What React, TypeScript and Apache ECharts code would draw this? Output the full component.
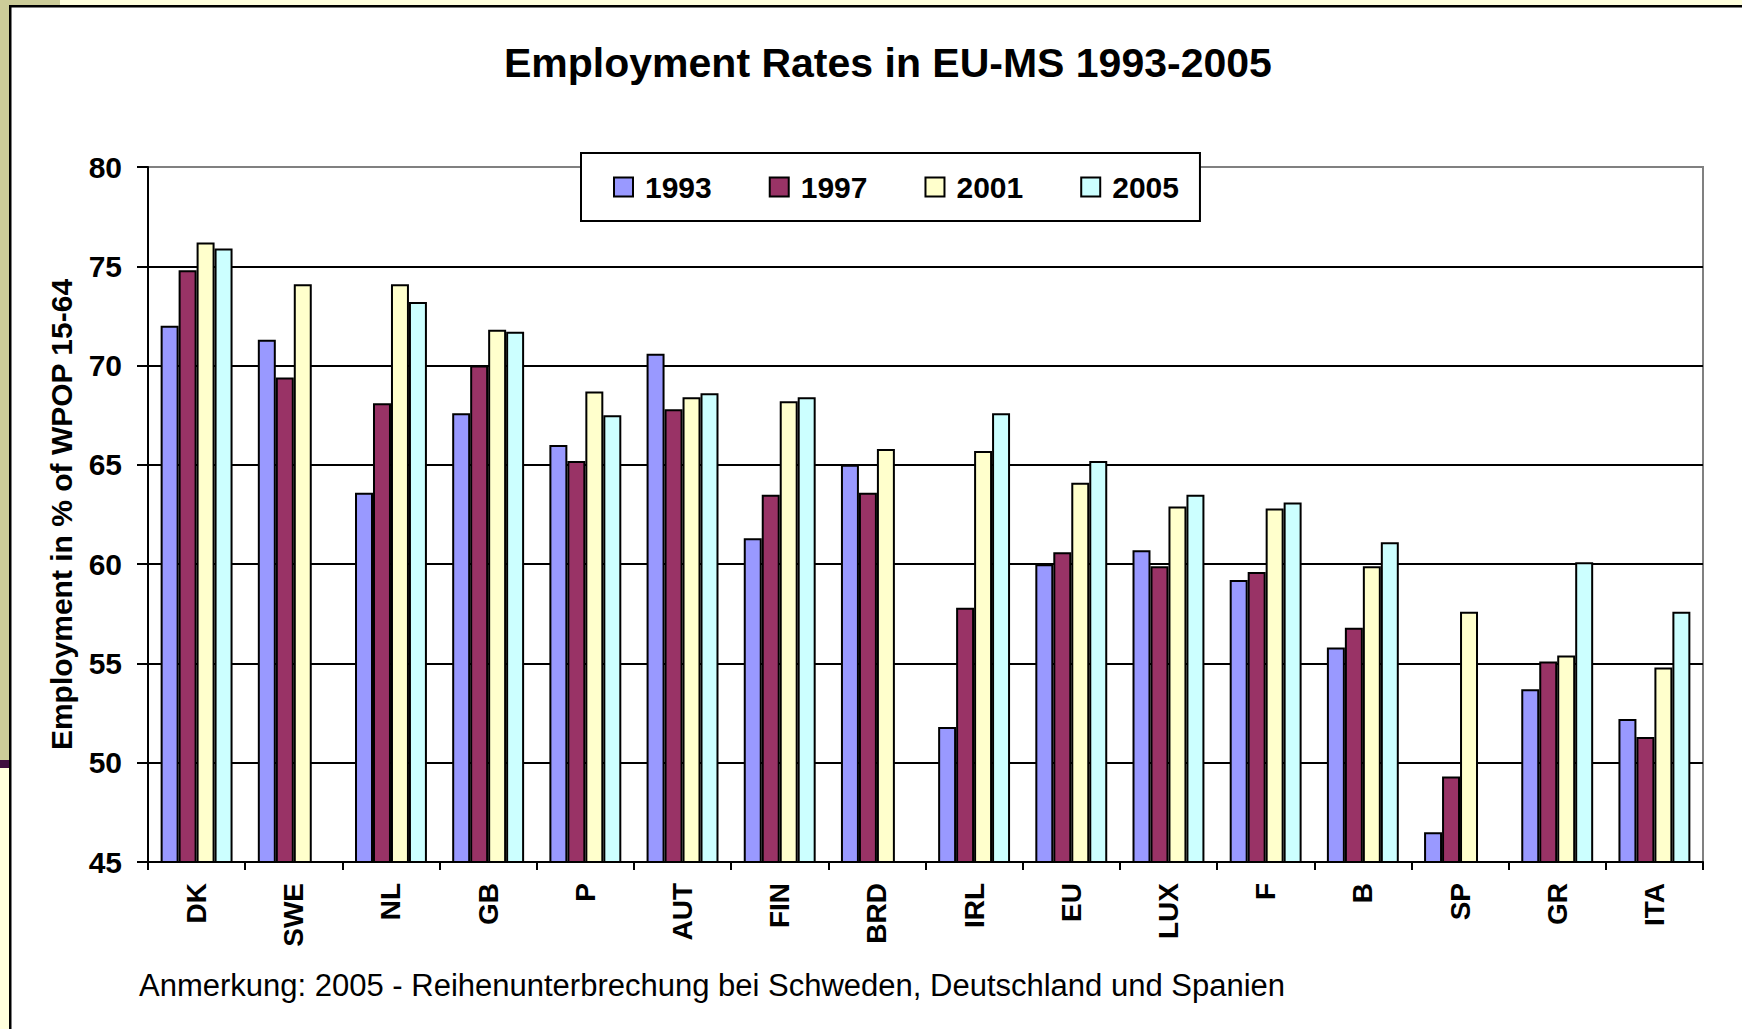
import React, { useEffect, useRef } from "react";
import * as echarts from "echarts";

const categories = ["DK", "SWE", "NL", "GB", "P", "AUT", "FIN", "BRD", "IRL", "EU", "LUX", "F", "B", "SP", "GR", "ITA"];
const years = ["1993", "1997", "2001", "2005"];

const values1993 = [72.0, 71.3, 63.6, 67.6, 66.0, 70.6, 61.3, 65.0, 51.8, 60.0, 60.7, 59.2, 55.8, 46.5, 53.7, 52.2];
const values1997 = [74.8, 69.4, 68.1, 70.0, 65.2, 67.8, 63.5, 63.6, 57.8, 60.6, 59.9, 59.6, 56.8, 49.3, 55.1, 51.3];
const values2001 = [76.2, 74.1, 74.1, 71.8, 68.7, 68.4, 68.2, 65.8, 65.7, 64.1, 62.9, 62.8, 59.9, 57.6, 55.4, 54.8];
const values2005 = [75.9, null, 73.2, 71.7, 67.5, 68.6, 68.4, null, 67.6, 65.2, 63.5, 63.1, 61.1, null, 60.1, 57.6];

const yMin = 45;
const yMax = 80;
const yInterval = 5;

const titleText = "Employment Rates in EU-MS 1993-2005";
const yAxisTitle = "Employment in % of WPOP 15-64";
const noteText = "Anmerkung: 2005 - Reihenunterbrechung bei Schweden, Deutschland und Spanien";

const seriesColors = ["#9999FF", "#993366", "#FFFFCC", "#CCFFFF"];
const seriesValues = [values1993, values1997, values2001, values2005];

const FONT = "'Liberation Sans', Arial, Helvetica, sans-serif";

export default function App() {
  const ref = useRef<HTMLDivElement>(null);

  useEffect(() => {
    if (!ref.current) return;
    const chart = echarts.init(ref.current, null, { renderer: "svg" });

    const splitCount = Math.round((yMax - yMin) / yInterval) + 1;
    const splitColors: string[] = [];
    for (let i = 0; i < splitCount; i++) splitColors.push(i === splitCount - 1 ? "#808080" : "#000000");

    const option: any = {
      animation: false,
      backgroundColor: "#ffffff",
      textStyle: { fontFamily: FONT },
      title: {
        text: titleText,
        left: 504,
        top: 42,
        padding: 0,
        textStyle: { fontSize: 41, fontWeight: "bold", color: "#000", fontFamily: FONT },
      },
      legend: {
        data: years,
        left: 581,
        top: 153,
        orient: "horizontal",
        padding: [19, 21, 19, 32],
        itemGap: 57,
        itemWidth: 19,
        itemHeight: 19,
        icon: "rect",
        borderColor: "#000",
        borderWidth: 2,
        backgroundColor: "#fff",
        textStyle: { fontSize: 30, fontWeight: "bold", color: "#000", fontFamily: FONT, padding: [0, 0, 0, 7] },
      },
      grid: {
        left: 148,
        top: 167,
        width: 1555,
        height: 695,
        show: true,
        borderColor: "#808080",
        borderWidth: 2,
        backgroundColor: "transparent",
      },
      xAxis: {
        type: "category",
        data: categories,
        axisLine: { show: true, lineStyle: { color: "#000", width: 2 } },
        axisTick: { show: true, length: 8, lineStyle: { color: "#000", width: 2 } },
        axisLabel: { rotate: 90, interval: 0, fontSize: 28, fontWeight: "bold", color: "#000", margin: 21, fontFamily: FONT },
        splitLine: { show: false },
      },
      yAxis: {
        type: "value",
        min: yMin,
        max: yMax,
        interval: yInterval,
        name: yAxisTitle,
        nameLocation: "middle",
        nameRotate: 90,
        nameGap: 72,
        nameTextStyle: { fontSize: 30, fontWeight: "bold", color: "#000", fontFamily: FONT },
        axisLine: { show: true, lineStyle: { color: "#000", width: 2 } },
        axisTick: { show: true, length: 11, lineStyle: { color: "#000", width: 2 } },
        axisLabel: { fontSize: 30, fontWeight: "bold", color: "#000", margin: 26, fontFamily: FONT },
        splitLine: { show: true, lineStyle: { color: splitColors, width: 2 } },
      },
      series: years.map((y, i) => ({
        name: y,
        type: "bar",
        data: seriesValues[i],
        barGap: "0%",
        barCategoryGap: "26%",
        itemStyle: { color: seriesColors[i], borderColor: "#000", borderWidth: 2 },
      })),
      graphic: [
        { type: "rect", shape: { x: 0, y: 0, width: 10, height: 760 }, style: { fill: "#CCCC99" }, silent: true },
        { type: "rect", shape: { x: 0, y: 760, width: 10, height: 8 }, style: { fill: "#3F0F3F" }, silent: true },
        { type: "rect", shape: { x: 0, y: 768, width: 10, height: 261 }, style: { fill: "#FFFFDD" }, silent: true },
        { type: "rect", shape: { x: 0, y: 0, width: 60, height: 6 }, style: { fill: "#CCCC99" }, silent: true },
        { type: "rect", shape: { x: 60, y: 0, width: 1682, height: 6 }, style: { fill: "#FFFFDD" }, silent: true },
        { type: "rect", shape: { x: 9, y: 5, width: 1733, height: 2.5 }, style: { fill: "#000" }, silent: true },
        { type: "rect", shape: { x: 9, y: 5, width: 2.5, height: 1024 }, style: { fill: "#000" }, silent: true },
        {
          type: "text",
          left: 139,
          top: 970,
          style: { text: noteText, fontSize: 31, fill: "#000", fontFamily: FONT },
          silent: true,
        },
      ],
    };

    chart.setOption(option);
    return () => chart.dispose();
  }, []);

  return <div ref={ref} style={{ position: "absolute", left: 0, top: 0, width: 1742, height: 1029 }} />;
}
